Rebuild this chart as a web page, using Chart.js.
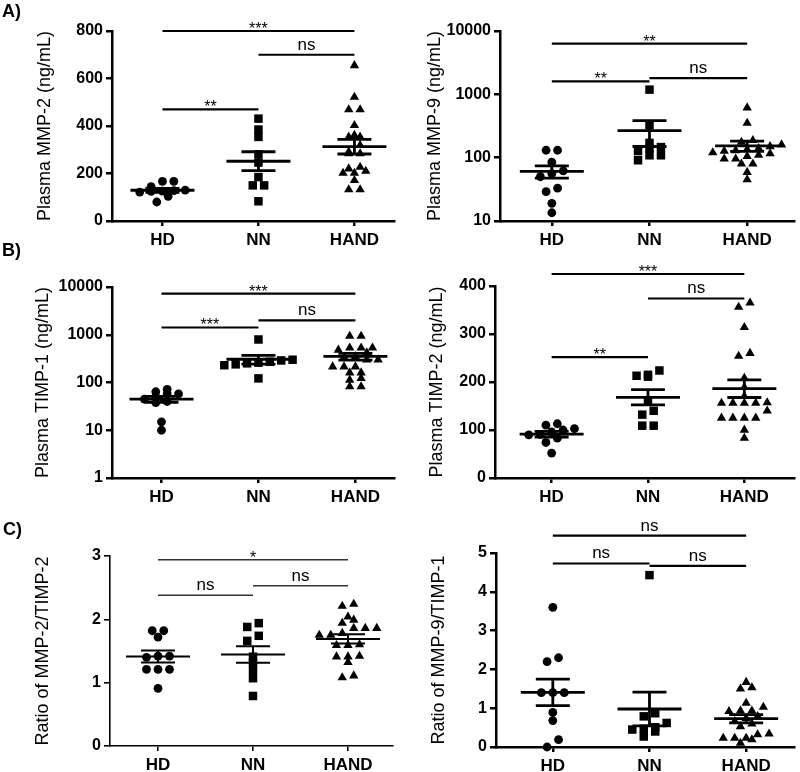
<!DOCTYPE html>
<html><head><meta charset="utf-8">
<script src="https://cdn.jsdelivr.net/npm/chart.js@4.4.1/dist/chart.umd.min.js"></script>
<style>
html,body{margin:0;padding:0;background:#fff;}
body{width:800px;height:772px;position:relative;overflow:hidden;font-family:"Liberation Sans",Arial,sans-serif;}
.panel{position:absolute;}
.lbl{position:absolute;font-weight:bold;font-size:18px;color:#000;z-index:5;line-height:21px;}
</style></head><body>
<div class="lbl" style="left:2px;top:1px">A)</div>
<div class="lbl" style="left:2px;top:240px">B)</div>
<div class="lbl" style="left:3px;top:519px">C)</div>
<script>
// ---------- data ----------
const categories = ['HD', 'NN', 'HAND'];

// A left: Plasma MMP-2 (ng/mL)
const mmp2HD   = [167,167,145,130,128,126,125,122,104,80];
const mmp2NN   = [431,385,354,281,246,185,150,150,83];
const mmp2HAND = [655,522,469,469,403,361,354,354,319,291,284,284,227,220,210,202,202,171,132,132];
const mmp2Ticks = [0,200,400,600,800];
const mmp2Sig = [{a:0,b:2,y:800,t:'***'},{a:1,b:2,y:700,t:'ns'},{a:0,b:1,y:470,t:'**'}];

// A right: Plasma MMP-9 (ng/mL), log
const mmp9HD   = [131,131,85,62,56,50,33,29,19,13.5];
const mmp9NN   = [1186,325,171,147,140,127,109,109,91];
const mmp9HAND = [615,352,188,176,160,150,140,135,130,127,120,116,110,105,96,96,80,80,59,45];
const mmp9Ticks = [10,100,1000,10000];
const mmp9Sig = [{a:0,b:2,y:6300,t:'**'},{a:0,b:1,y:1600,t:'**'},{a:1,b:2,y:1800,t:'ns'}];

// B left: Plasma TIMP-1 (ng/mL), log
const timp1HD   = [72,64,57.5,57.5,50,45,40,38,15,10];
const timp1NN   = [796,300,290,272,260,252,240,230,122];
const timp1HAND = [934,934,480,533,533,533,420,350,300,340,300,214,214,214,160,160,122,113,82,82];
const timp1Ticks = [1,10,100,1000,10000];
const timp1Sig = [{a:0,b:2,y:7250,t:'***'},{a:0,b:1,y:1420,t:'***'},{a:1,b:2,y:2000,t:'ns'}];

// B right: Plasma TIMP-2 (ng/mL)
const timp2HD   = [113,110,103,100,96,91,90,83,74,52];
const timp2NN   = [224,215,213,211,160,140,132,109,109];
const timp2HAND = [365,356,314,260,254,208,189,170,157,156,156,156,156,140,125,125,125,125,100,83];
const timp2Ticks = [0,100,200,300,400];
const timp2Sig = [{a:0,b:2,y:425,t:'***'},{a:1,b:2,y:374,t:'ns'},{a:0,b:1,y:252,t:'**'}];

// C left: Ratio of MMP-2/TIMP-2
const ratio1HD   = [1.82,1.82,1.72,1.42,1.40,1.42,1.21,1.21,1.21,0.91];
const ratio1NN   = [1.94,1.88,1.74,1.66,1.41,1.32,1.20,1.07,0.79];
const ratio1HAND = [2.24,2.21,2.04,1.99,1.94,1.86,1.86,1.86,1.78,1.75,1.75,1.60,1.59,1.59,1.42,1.41,1.41,1.32,1.11,1.08];
const ratio1Ticks = [0,1,2,3];
const ratio1Sig = [{a:0,b:2,y:2.94,t:'*'},{a:0,b:1,y:2.38,t:'ns'},{a:1,b:2,y:2.53,t:'ns'}];

// C right: Ratio of MMP-9/TIMP-1
const ratio2HD   = [3.6,2.3,2.2,1.4,1.4,1.4,0.89,0.68,0.19,0.0];
const ratio2NN   = [4.43,0.87,0.79,0.62,0.51,0.47,0.45,0.40,0.27];
const ratio2HAND = [1.67,1.53,1.50,1.13,1.03,0.93,0.93,0.92,0.79,0.74,0.66,0.60,0.53,0.34,0.32,0.23,0.23,0.23,0.19,0.10];
const ratio2Ticks = [0,1,2,3,4,5];
const ratio2Sig = [{a:0,b:2,y:5.45,t:'ns'},{a:0,b:1,y:4.73,t:'ns'},{a:1,b:2,y:4.67,t:'ns'}];

// ---------- helpers ----------
Chart.defaults.font.family = "'Liberation Sans', Arial, sans-serif";
Chart.defaults.color = '#000';

function mean(a){return a.reduce((s,v)=>s+v,0)/a.length;}
function sem(a){const m=mean(a);const v=a.reduce((s,x)=>s+(x-m)*(x-m),0)/(a.length-1);return Math.sqrt(v)/Math.sqrt(a.length);}

// GraphPad-like scatter layout: points binned by height, each row spread symmetrically (pixel offsets)
function swarm(values, toPx, step, binH){
  const bins={};
  values.forEach((v,i)=>{const b=Math.floor(toPx(v)/binH);(bins[b]=bins[b]||[]).push(i);});
  const offs=new Array(values.length).fill(0);
  Object.values(bins).forEach(idx=>{
    idx.sort((a,b)=>values[a]-values[b]);
    idx.forEach((i,j)=>{offs[i]=(j-(idx.length-1)/2)*step;});
  });
  return offs;
}

const meanSemPlugin = {
  id:'meanSem',
  afterDatasetsDraw(chart, args, o){
    const {ctx, scales:{x,y}} = chart;
    ctx.save(); ctx.strokeStyle='#000'; ctx.lineWidth=o.lw; ctx.lineCap='butt';
    const seg=(x1,y1,x2,y2)=>{ctx.beginPath();ctx.moveTo(x1,y1);ctx.lineTo(x2,y2);ctx.stroke();};
    o.groups.forEach((vals,i)=>{
      const m=mean(vals), s=sem(vals);
      const cx=x.getPixelForValue(i+1);
      const ym=y.getPixelForValue(m), yt=y.getPixelForValue(m+s), yb=y.getPixelForValue(m-s);
      seg(cx-o.mw,ym,cx+o.mw,ym);
      seg(cx,yt,cx,yb);
      seg(cx-o.cw,yt,cx+o.cw,yt);
      seg(cx-o.cw,yb,cx+o.cw,yb);
    });
    ctx.restore();
  }
};

const sigPlugin = {
  id:'sig',
  afterDraw(chart, args, o){
    const {ctx, scales:{x,y}} = chart;
    ctx.save(); ctx.strokeStyle=o.color; ctx.fillStyle='#000'; ctx.lineWidth=o.lw;
    ctx.textAlign='center'; ctx.textBaseline='alphabetic';
    o.items.forEach(s=>{
      const x1=x.getPixelForValue(s.a+1), x2=x.getPixelForValue(s.b+1), py=y.getPixelForValue(s.y);
      ctx.beginPath(); ctx.moveTo(x1,py); ctx.lineTo(x2,py); ctx.stroke();
      const mx=(x1+x2)/2;
      if(s.t==='ns'){ ctx.font="17px 'Liberation Sans', Arial, sans-serif"; ctx.fillText('ns',mx,py-5); }
      else { ctx.font="16px 'Liberation Sans', Arial, sans-serif"; ctx.fillText(s.t,mx,py+3); }
    });
    ctx.restore();
  }
};

const markerStyles = ['circle','rect','triangle'];
const markerRadius = [4.4, 6.0, 5.4];

function makePanel(p){
  const [bx,by,bw,bh]=p.box;
  const div=document.createElement('div'); div.className='panel';
  div.style.left=bx+'px'; div.style.top=by+'px'; div.style.width=bw+'px'; div.style.height=bh+'px';
  const cv=document.createElement('canvas'); cv.width=bw; cv.height=bh; cv.style.width=bw+'px'; cv.style.height=bh+'px';
  div.appendChild(cv); document.body.appendChild(div);

  const unit=p.nnX-p.hdX;
  const xmin=1-(p.hdX-p.L)/unit, xmax=xmin+(p.R-p.L)/unit;
  const areaH=p.B-p.T;
  const ymin=p.ticks[0], ymax=p.ticks[p.ticks.length-1];
  const toPx = p.log
    ? v=>(Math.log10(Math.max(v,1e-9))-Math.log10(ymin))/(Math.log10(ymax)-Math.log10(ymin))*areaH
    : v=>(v-ymin)/(ymax-ymin)*areaH;

  const datasets=p.groups.map((vals,gi)=>{
    const offs=swarm(vals,toPx,11.5,8.5);
    return {
      data: vals.map((v,j)=>({x:gi+1+offs[j]/unit, y:v})),
      pointStyle: markerStyles[gi], pointRadius: markerRadius[gi], pointHoverRadius: markerRadius[gi],
      backgroundColor:'#000', borderColor:'#000', borderWidth:0, clip:false
    };
  });

  new Chart(cv,{
    type:'scatter',
    data:{datasets},
    plugins:[meanSemPlugin,sigPlugin],
    options:{
      responsive:false, animation:false, events:[],
      layout:{padding:{left:0,top:p.T,right:bw-p.R,bottom:0}},
      plugins:{
        legend:{display:false}, tooltip:{enabled:false},
        meanSem:{groups:p.groups, lw:p.meanLw, mw:32, cw:17},
        sig:{items:p.sig, lw:p.sigLw, color:p.sigColor}
      },
      scales:{
        x:{
          type:'linear', min:xmin, max:xmax,
          afterBuildTicks:s=>{s.ticks=[1,2,3].map(v=>({value:v}));},
          afterFit:s=>{s.height=bh-p.B;},
          ticks:{callback:v=>categories[Math.round(v)-1], font:{size:17,weight:'bold'}, color:'#000', padding:4, autoSkip:false, maxRotation:0},
          grid:{drawOnChartArea:false, drawTicks:true, tickLength:5, color:'#000', lineWidth:p.axisLw},
          border:{color:'#000', width:p.axisLw}
        },
        y:{
          type:p.log?'logarithmic':'linear', min:ymin, max:ymax,
          afterBuildTicks:s=>{s.ticks=p.ticks.map(v=>({value:v}));},
          afterFit:s=>{s.width=p.L;},
          ticks:{callback:v=>String(v), font:{size:16,weight:'bold'}, color:'#000', padding:3, autoSkip:false},
          grid:{drawOnChartArea:false, drawTicks:true, tickLength:6, color:'#000', lineWidth:p.axisLw},
          border:{color:'#000', width:p.axisLw},
          title:{display:true, text:p.title, font:{size:18}, color:'#000', padding:{top:p.titleX-10.8,bottom:0}}
        }
      }
    }
  });
}

const thick={axisLw:2.5, meanLw:2.8, sigLw:2.2, sigColor:'#000'};
makePanel(Object.assign({box:[0,0,400,250],L:112,T:31,R:397,B:221,hdX:163,nnX:260,titleX:45,
  groups:[mmp2HD,mmp2NN,mmp2HAND],ticks:mmp2Ticks,log:false,sig:mmp2Sig,title:'Plasma MMP-2 (ng/mL)'},thick));
makePanel(Object.assign({box:[400,0,400,250],L:100,T:31,R:395,B:221,hdX:152,nnX:250,titleX:35,
  groups:[mmp9HD,mmp9NN,mmp9HAND],ticks:mmp9Ticks,log:true,sig:mmp9Sig,title:'Plasma MMP-9 (ng/mL)'},thick));
makePanel(Object.assign({box:[0,250,400,260],L:112,T:37,R:397,B:228,hdX:162,nnX:260,titleX:43,
  groups:[timp1HD,timp1NN,timp1HAND],ticks:timp1Ticks,log:true,sig:timp1Sig,title:'Plasma TIMP-1 (ng/mL)'},thick));
makePanel(Object.assign({box:[400,250,400,260],L:95,T:36,R:396,B:228,hdX:152,nnX:249,titleX:37,
  groups:[timp2HD,timp2NN,timp2HAND],ticks:timp2Ticks,log:false,sig:timp2Sig,title:'Plasma TIMP-2 (ng/mL)'},thick));
makePanel({box:[0,510,400,262],L:110,T:46,R:393,B:236,hdX:158,nnX:253,titleX:43,
  groups:[ratio1HD,ratio1NN,ratio1HAND],ticks:ratio1Ticks,log:false,sig:ratio1Sig,title:'Ratio of MMP-2/TIMP-2',
  axisLw:1.6, meanLw:2.0, sigLw:1.4, sigColor:'#333'});
makePanel(Object.assign({box:[400,510,400,262],L:96,T:43,R:395,B:237,hdX:153,nnX:250,titleX:39,
  groups:[ratio2HD,ratio2NN,ratio2HAND],ticks:ratio2Ticks,log:false,sig:ratio2Sig,title:'Ratio of MMP-9/TIMP-1'},thick));
</script>
</body></html>
